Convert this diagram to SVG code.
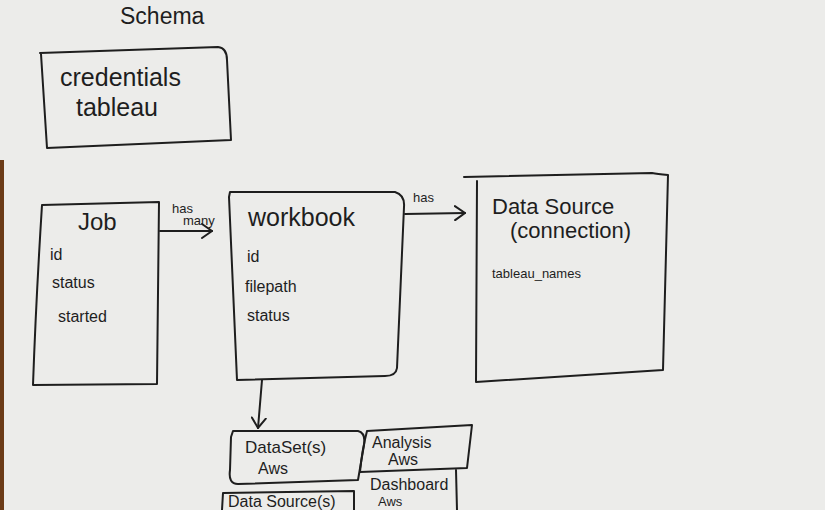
<svg xmlns="http://www.w3.org/2000/svg" width="825" height="510" viewBox="0 0 825 510">
<style>
.ink{fill:none;stroke:#1e1e1e;stroke-width:2;stroke-linecap:round;stroke-linejoin:round}
.t{font-family:"Liberation Sans","DejaVu Sans",sans-serif;fill:#1e1e1e}
.big{font-size:22px}
.mid{font-size:16px}
.sm{font-size:13px}
</style>
<defs>
<marker id="open" viewBox="0 0 12 16" refX="11" refY="8" markerWidth="12" markerHeight="16" markerUnits="userSpaceOnUse" orient="auto">
<path d="M1 1 L11 8 L1 15" fill="none" stroke="#1e1e1e" stroke-width="2" stroke-linecap="round"/>
</marker>
</defs>
<rect x="0" y="0" width="825" height="510" fill="#ececea"/>
<rect x="0" y="160" width="4" height="350" fill="#6b3b17"/>
<text class="t" font-size="23" x="120" y="24">Schema</text>
<g id="credentials">
<path class="ink" d="M40 53 L218 47 Q227 48 227 60 L231 140 L47 148 L41 54"/>
<text class="t" font-size="25" x="60" y="86">credentials</text>
<text class="t" font-size="25" x="76" y="116">tableau</text>
</g>
<g id="job">
<path class="ink" d="M42 205 L159 202 L157 384 L33 385 Q36 300 42 205"/>
<text class="t" font-size="24" x="78" y="230">Job</text>
<text class="t mid" x="50" y="260">id</text>
<text class="t mid" x="52" y="288">status</text>
<text class="t mid" x="58" y="322">started</text>
</g>
<g id="workbook">
<path class="ink" d="M229 197 L230 192 L395 192 Q405 195 404 207 L397 368 Q396 376 385 376 L237 380 L229 197"/>
<text class="t" font-size="25" x="248" y="226">workbook</text>
<text class="t mid" x="247" y="262">id</text>
<text class="t mid" x="245" y="292">filepath</text>
<text class="t mid" x="247" y="321">status</text>
</g>
<g id="datasource">
<path class="ink" d="M464 177 L652 173 Q657 174 668 175 L663 370 L476 382 L477 181"/>
<text class="t big" x="492" y="214">Data Source</text>
<text class="t big" x="510" y="238">(connection)</text>
<text class="t sm" x="492" y="278">tableau_names</text>
</g>
<g id="datasets">
<path class="ink" d="M231 437 L233 431 L358 431 Q366 433 364 445 L358 480 L238 484 Q228 484 230 470 L231 437"/>
<text class="t" font-size="17" x="245" y="453">DataSet(s)</text>
<text class="t mid" x="258" y="474">Aws</text>
</g>
<g id="analysis">
<path class="ink" d="M367 431 L472 425 L467 468 L360 472 Q362 450 367 431"/>
<text class="t mid" x="372" y="448">Analysis</text>
<text class="t mid" x="388" y="465">Aws</text>
</g>
<g id="datasources">
<path class="ink" d="M222 510 L223 493 L354 491 L354 510"/>
<text class="t mid" x="228" y="507">Data Source(s)</text>
</g>
<g id="dashboard">
<path class="ink" d="M456 470 L457 510"/>
<text class="t mid" x="370" y="490">Dashboard</text>
<text class="t" font-size="13" x="378" y="506">Aws</text>
</g>
<g id="connectors">
<path class="ink" d="M160 231 L212 231" marker-end="url(#open)"/>
<text class="t sm" x="172" y="213">has</text>
<text class="t sm" x="183" y="225">many</text>
<path class="ink" d="M405 214 L465 213" marker-end="url(#open)"/>
<text class="t sm" x="413" y="202">has</text>
<path class="ink" d="M262 380 L258 428" marker-end="url(#open)"/>
</g>
</svg>
